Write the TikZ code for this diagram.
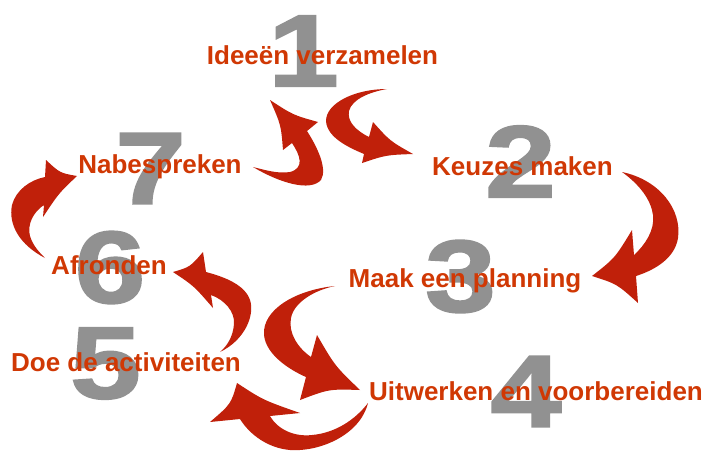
\documentclass[tikz,border=0pt]{standalone}
\usepackage{fontspec}
\setmainfont{Liberation Sans}
\usepackage{tikz}
\usetikzlibrary{positioning}
\definecolor{arrowred}{RGB}{192,32,10}
\definecolor{labelred}{RGB}{208,56,4}
\definecolor{numgray}{RGB}{145,145,145}

\begin{document}
\begin{tikzpicture}[x=1pt, y=-1pt,
		stagenum/.style={text=numgray, inner sep=0pt, font=\fontsize{102}{102}\selectfont\bfseries\addfontfeatures{FakeBold=2,FakeStretch=1.25}},
		stagetxt/.style={text=labelred, inner sep=0pt, anchor=base, font=\fontsize{26}{26}\selectfont\bfseries},
		bentarrow/.style={fill=arrowred, draw=none}]
		
		\useasboundingbox (0,0) rectangle (709,472);
		
		% Draw the curved arrows
		\fill[bentarrow] (253,167) .. controls (280,183) and (310,192) .. (321,180) .. controls (328,168) and (316,145) .. (307,131) -- (318,122) .. controls (293,115) .. (270,100) .. controls (281,125) .. (283,150) -- (292,143) .. controls (300,155) and (305,168) .. (290,172) .. controls (278,174) and (265,170) .. (253,167) -- cycle; % 7 -> 1
		\fill[bentarrow] (387,89) .. controls (355,89) and (326,103) .. (326,121) .. controls (327,138) and (350,148) .. (364,154) -- (362,163) .. controls (386,155) .. (413,154) .. controls (390,141) .. (373,122) -- (369,137) .. controls (355,130) and (347,121) .. (349,111) .. controls (352,99) and (370,92) .. (387,89) -- cycle; % 1 -> 2
		\fill[bentarrow] (622,172) .. controls (660,180) and (682,210) .. (678,238) .. controls (675,258) and (655,270) .. (636,276) -- (638,303) .. controls (617,284) .. (592,276) .. controls (615,258) .. (632,230) -- (634,255) .. controls (645,245) and (655,230) .. (653,215) .. controls (651,200) and (640,185) .. (622,172) -- cycle; % 2 -> 3
		\fill[bentarrow] (335,286) .. controls (295,290) and (262,310) .. (264,335) .. controls (266,355) and (290,370) .. (306,377) -- (300,400) .. controls (329,389) .. (360,390) .. controls (335,366) .. (317,335) -- (311,357) .. controls (298,348) and (288,333) .. (291,318) .. controls (294,302) and (315,290) .. (335,286) -- cycle; % 3 -> 4
		\fill[bentarrow] (368,403) .. controls (360,435) and (320,452) .. (290,450) .. controls (268,448) and (250,435) .. (240,419) -- (210,422) .. controls (231,404) .. (237,383) .. controls (263,400) .. (300,413) -- (270,416) .. controls (278,430) and (295,437) .. (312,435) .. controls (335,433) and (355,420) .. (368,403) -- cycle; % 4 -> 5
		\fill[bentarrow] (220,352) .. controls (245,340) and (255,315) .. (250,300) .. controls (245,285) and (225,277) .. (206,272) -- (203,252) .. controls (190,267) .. (173,272) .. controls (194,286) .. (213,308) -- (211,295) .. controls (225,300) and (235,312) .. (234,324) .. controls (233,337) and (227,346) .. (220,352) -- cycle; % 5 -> 6
		\fill[bentarrow] (45,258) .. controls (20,245) and (8,225) .. (12,205) .. controls (16,190) and (30,180) .. (45,177) -- (46,160) .. controls (60,173) .. (77,176) .. controls (59,193) .. (43,217) -- (44,205) .. controls (33,212) and (27,225) .. (30,236) .. controls (33,246) and (40,253) .. (45,258) -- cycle; % 6 -> 7
		
		% Draw the step numbers
		\foreach \n/\x/\y in {1/303.5/51, 2/520.5/161.5, 3/460.5/276.5, 4/526/391.5, 5/105.5/363.5, 6/110/267.5, 7/150.5/168.5}
		\node[stagenum] (num\n) at (\x,\y) {\n};
		
		% Add the step texts
		\node[stagetxt] (ideas) at (322.5,64) {Ideeën verzamelen};
		\node[stagetxt] (choices) at (522.5,175) {Keuzes maken};
		\node[stagetxt] (planning) at (465,287) {Maak een planning};
		\node[stagetxt] (prepare) at (536,400) {Uitwerken en voorbereiden};
		\node[stagetxt] (activities) at (126,371) {Doe de activiteiten};
		\node[stagetxt] (finish) at (109,274) {Afronden};
		\node[stagetxt] (review) at (160,173) {Nabespreken};
		
	\end{tikzpicture}
\end{document}
